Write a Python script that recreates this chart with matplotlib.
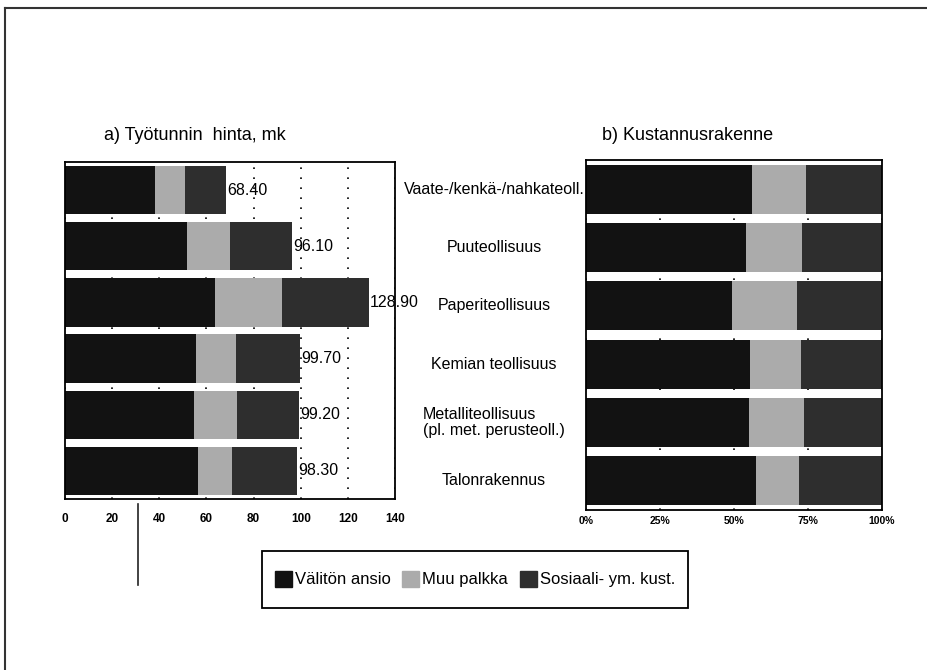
import matplotlib
matplotlib.use("Agg")
import matplotlib.pyplot as plt
import matplotlib.transforms as mtransforms
from matplotlib.patches import Rectangle
from matplotlib.lines import Line2D
import numpy as np

categories = ["Vaate-/kenkä-/nahkateoll.", "Puuteollisuus", "Paperiteollisuus",
              "Kemian teollisuus", "Metalliteollisuus\n(pl. met. perusteoll.)",
              "Talonrakennus"]
valiton = [38.3, 51.9, 63.6, 55.4, 54.7, 56.4]
muu = [12.5, 18.1, 28.3, 17.0, 18.4, 14.5]
sosiaali = [17.6, 26.1, 37.0, 27.3, 26.1, 27.4]
totals = [68.40, 96.10, 128.90, 99.70, 99.20, 98.30]
series_names = ["Välitön ansio", "Muu palkka", "Sosiaali- ym. kust."]
colors = ["#121212", "#ababab", "#2e2e2e"]

plt.rcParams["font.family"] = ["Liberation Sans", "DejaVu Sans"]
narrow = ["Liberation Sans Narrow", "Liberation Sans", "DejaVu Sans"]

fig = plt.figure(figsize=(9.27, 6.70), dpi=100)
W, H = 927, 670


def px_axes(x0, y0, x1, y1):
    return fig.add_axes([x0 / W, 1 - y1 / H, (x1 - x0) / W, (y1 - y0) / H])


y = np.arange(len(categories))
series = [np.array(valiton), np.array(muu), np.array(sosiaali)]

# a) hourly cost
ax1 = px_axes(65, 162, 395, 499)
left = np.zeros(len(y))
for vals, c in zip(series, colors):
    ax1.barh(y, vals, left=left, height=0.86, color=c, edgecolor="none", zorder=2)
    left = left + vals
for yi, t in zip(y, totals):
    ax1.annotate("%.2f" % t, (t, yi), xytext=(1, 0), textcoords="offset points",
                 ha="left", va="center", fontsize=11.5, zorder=3)
ax1.set_xlim(0, 140)
ax1.set_ylim(5.5, -0.5)
ax1.set_xticks(range(0, 141, 20))
ax1.set_yticks([])
ax1.grid(axis="x", linestyle=(0, (1, 5)), color="black", linewidth=1.2, zorder=0)
ax1.tick_params(axis="x", length=0, pad=10)
for lab in ax1.get_xticklabels():
    lab.set_fontfamily(narrow)
    lab.set_fontweight("bold")
    lab.set_fontsize(8.5)
for s in ax1.spines.values():
    s.set_linewidth(1.3)

# b) cost structure (shares)
ax2 = px_axes(586, 160, 882, 510)
tot = np.array(totals)
left = np.zeros(len(y))
for vals, c in zip(series, colors):
    share = vals / tot * 100
    ax2.barh(y, share, left=left, height=0.84, color=c, edgecolor="none", zorder=2)
    left = left + share
ax2.set_xlim(0, 100)
ax2.set_ylim(5.5, -0.5)
ax2.set_xticks([0, 25, 50, 75, 100])
ax2.set_xticklabels(["0%", "25%", "50%", "75%", "100%"])
ax2.set_yticks([])
ax2.grid(axis="x", linestyle=(0, (1, 5)), color="black", linewidth=1.2, zorder=0)
ax2.tick_params(axis="x", length=0, pad=4)
for lab in ax2.get_xticklabels():
    lab.set_fontfamily(narrow)
    lab.set_fontweight("bold")
    lab.set_fontsize(7.5)
for s in ax2.spines.values():
    s.set_linewidth(1.3)

# category labels between the panels
trans = mtransforms.blended_transform_factory(fig.transFigure, ax2.transData)
for yi, name in zip(y, categories):
    fig.text(494 / W, yi, name, transform=trans, ha="center", va="center",
             multialignment="left", fontsize=11.5, linespacing=1.15)

fig.text(104 / W, 1 - 135 / H, "a) Työtunnin  hinta, mk", ha="left", va="center",
         fontsize=13, family=narrow)
fig.text(602 / W, 1 - 135 / H, "b) Kustannusrakenne", ha="left", va="center",
         fontsize=13, family=narrow)

# legend in a plain box
handles = [Rectangle((0, 0), 1, 1, color=c) for c in colors]
leg = fig.legend(handles, series_names, loc="center", ncol=3,
                 bbox_to_anchor=(475 / W, 1 - 579 / H), frameon=False,
                 fontsize=12, handlelength=1.0, handleheight=1.15,
                 handletextpad=0.2, columnspacing=0.7)
fig.patches.append(Rectangle((262 / W, 1 - 608 / H), (688 - 262) / W, (608 - 551) / H,
                             transform=fig.transFigure, fill=False,
                             edgecolor="black", linewidth=1.3))

# page frame and stray scan line
fig.add_artist(Line2D([5 / W, 5 / W], [0, 1 - 8 / H], transform=fig.transFigure,
                      color="#333333", linewidth=1.5))
fig.add_artist(Line2D([5 / W, 1], [1 - 8 / H, 1 - 8 / H], transform=fig.transFigure,
                      color="#333333", linewidth=1.5))
fig.add_artist(Line2D([137.5 / W, 137.5 / W], [1 - 504 / H, 1 - 585 / H],
                      transform=fig.transFigure, color="#222222", linewidth=1.2))

fig.savefig("out.png", dpi=100)
